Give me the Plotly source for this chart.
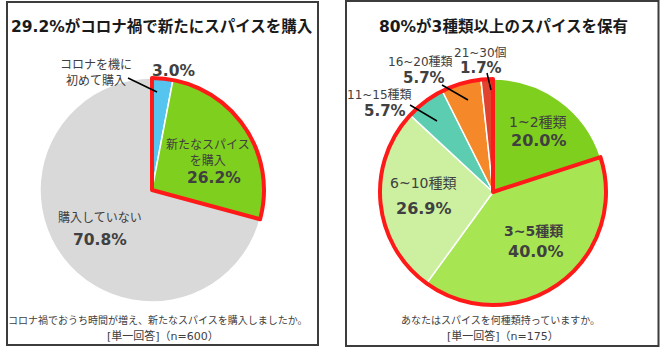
import plotly.graph_objects as go

W, H = 660, 348

# ---------------- data ----------------
left_title = "29.2%がコロナ禍で新たにスパイスを購入"
left_labels = ["コロナを機に<br>初めて購入", "新たなスパイス<br>を購入", "購入していない"]
left_values = [3.0, 26.2, 70.8]
left_highlight = [True, True, False]
left_note = ["コロナ禍でおうち時間が増え、新たなスパイスを購入しましたか。", "[単一回答]（n=600）"]

right_title = "80%が3種類以上のスパイスを保有"
right_labels = ["1~2種類", "3~5種類", "6~10種類", "11~15種類", "16~20種類", "21~30個"]
right_values = [20.0, 40.0, 26.9, 5.7, 5.7, 1.7]
right_highlight = [False, True, True, True, True, True]
right_note = ["あなたはスパイスを何種類持っていますか。", "[単一回答]（n=175）"]

# ---------------- styles ----------------
left_colors = ["#55c4ef", "#7fcf1e", "#d9d9d9"]
right_colors = ["#7fcf1e", "#a8e553", "#ccf0a0", "#5ccdb0", "#f5892a", "#e0432e"]
TXT = "#404040"
FONT = "DejaVu Sans, Noto Sans CJK JP, sans-serif"
RED = "#ff1a1a"


def px(x, y):
    return x / W, 1 - y / H


def dom(cx, cy, r):
    return dict(x=[(cx - r) / W, (cx + r) / W], y=[1 - (cy + r) / H, 1 - (cy - r) / H])


left_dom = dom(152, 190, 112)
right_dom = dom(493, 192, 113)

fig = go.Figure()


def add_pie(values, colors, highlight, domain):
    fig.add_trace(go.Pie(
        values=values, sort=False, direction="clockwise", rotation=0,
        marker=dict(colors=colors, line=dict(color="white", width=1.5)),
        textinfo="none", hoverinfo="skip", domain=domain, showlegend=False))
    hi = sum(v for v, h in zip(values, highlight) if h)
    lo = sum(v for v, h in zip(values, highlight) if not h)
    if highlight[0]:
        vals = [hi, lo]
        lines = [RED, "rgba(0,0,0,0)"]
    else:
        vals = [lo, hi]
        lines = ["rgba(0,0,0,0)", RED]
    fig.add_trace(go.Pie(
        values=vals, sort=False, direction="clockwise", rotation=0,
        marker=dict(colors=["rgba(0,0,0,0)"] * 2, line=dict(color=lines, width=4)),
        textinfo="none", hoverinfo="skip", domain=domain, showlegend=False))


add_pie(left_values, left_colors, left_highlight, left_dom)
add_pie(right_values, right_colors, right_highlight, right_dom)

annotations = []


def ann(text, x, y, size, bold=False, color=TXT):
    ax, ay = px(x, y)
    annotations.append(dict(
        text=f"<b>{text}</b>" if bold else text, x=ax, y=ay, xref="paper", yref="paper",
        xanchor="center", yanchor="middle", showarrow=False,
        font=dict(family=FONT, size=size, color=color)))


# titles
ann(left_title, 162, 27, 15.5, bold=True, color="#1a1a1a")
ann(right_title, 503, 27, 15.5, bold=True, color="#1a1a1a")

# left labels
left_label_pos = [(96, 73), (208, 153), (100, 218)]
left_value_pos = [(173, 71), (214, 178), (100, 240)]
left_label_size = [12, 12, 12]
for lab, val, lp, vp, ls in zip(left_labels, left_values, left_label_pos, left_value_pos, left_label_size):
    ann(lab, lp[0], lp[1], ls)
    ann(f"{val:.1f}%", vp[0], vp[1], 15.5, bold=True)

# right labels
right_label_pos = [(538, 122), (533, 231), (423, 183), (379, 95), (420, 62), (480, 53)]
right_value_pos = [(539, 140), (536, 251), (424, 208), (385, 111), (424, 78), (481, 68)]
right_label_size = [14, 14, 14, 12, 12, 12]
right_label_bold = [False, True, False, False, False, False]
right_value_size = [16, 16, 16, 15, 15, 15]
for lab, val, lp, vp, ls, lb, vs in zip(right_labels, right_values, right_label_pos, right_value_pos,
                                        right_label_size, right_label_bold, right_value_size):
    ann(lab, lp[0], lp[1], ls, bold=lb)
    ann(f"{val:.1f}%", vp[0], vp[1], vs, bold=True)

# notes
ann(left_note[0], 158, 320, 10)
ann(left_note[1], 163, 336, 11)
ann(right_note[0], 500, 320, 10)
ann(right_note[1], 503, 336, 11)

shapes = []


def line(x0, y0, x1, y1):
    a0, b0 = px(x0, y0)
    a1, b1 = px(x1, y1)
    shapes.append(dict(type="line", xref="paper", yref="paper", x0=a0, y0=b0, x1=a1, y1=b1,
                       line=dict(color="#000000", width=1.5)))


def box(x0, y0, x1, y1):
    a0, b0 = px(x0, y0)
    a1, b1 = px(x1, y1)
    shapes.append(dict(type="rect", xref="paper", yref="paper", x0=a0, y0=b0, x1=a1, y1=b1,
                       line=dict(color="#3c3c3c", width=2), layer="below"))


box(7, 2, 318, 345)
box(346, 1, 658.5, 346)

line(128, 78, 157, 92)
line(487, 73, 491, 90)
line(442, 85, 468, 100)
line(410, 105, 437, 121)

fig.update_layout(
    width=W, height=H, margin=dict(l=0, r=0, t=0, b=0),
    paper_bgcolor="white", plot_bgcolor="white",
    annotations=annotations, shapes=shapes, showlegend=False)

fig.write_html("out.html")
